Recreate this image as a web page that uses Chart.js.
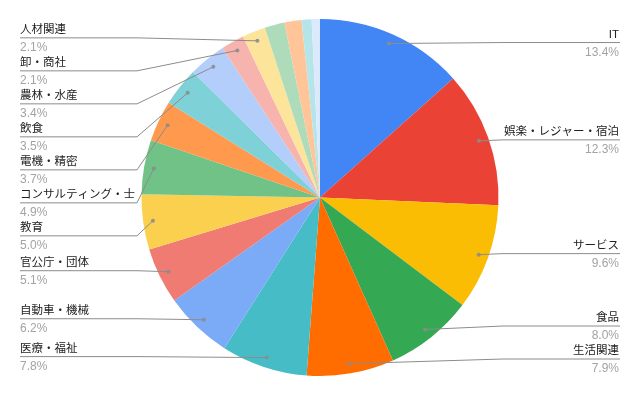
<!DOCTYPE html>
<html>
<head>
<meta charset="utf-8">
<script src="https://cdn.jsdelivr.net/npm/chart.js@4/dist/chart.umd.min.js"></script>
<style>
  html, body { margin: 0; padding: 0; background: #ffffff; }
  #wrap { width: 640px; height: 396px; }
</style>
</head>
<body>
<div id="wrap"><canvas id="c" width="640" height="396"></canvas></div>
<script>
// ---- data ----
const categories = ['IT', '娯楽・レジャー・宿泊', 'サービス', '食品', '生活関連', '医療・福祉',
  '自動車・機械', '官公庁・団体', '教育', 'コンサルティング・士', '電機・精密', '飲食',
  '農林・水産', '卸・商社', '人材関連', 'その他A', 'その他B', 'その他C', 'その他D'];
const shares = [13.4, 12.3, 9.6, 8.0, 7.9, 7.8, 6.2, 5.1, 5.0, 4.9, 3.7, 3.5, 3.4, 2.1, 2.1,
  1.8, 1.55, 0.9, 0.75];
const palette = ['#4285F4', '#EA4335', '#FBBC04', '#34A853', '#FF6D01', '#46BDC6', '#7BAAF7',
  '#F07B72', '#FCD04F', '#71C287', '#FF994D', '#7ED1D7', '#B3CEFB', '#F7B4AE', '#FDE49B',
  '#AEDCBA', '#FFC599', '#B5E5E8', '#DCE8FC'];
const labelThreshold = 2.0; // slices below this share get no outside label

const FONT = '"Liberation Sans", Arial, "Noto Sans CJK JP", sans-serif';

const outsideLabels = {
  id: 'outsideLabels',
  afterDraw(chart) {
    const ctx = chart.ctx;
    const meta = chart.getDatasetMeta(0);
    const data = chart.data.datasets[0].data;
    const total = data.reduce((a, b) => a + b, 0);
    const area = chart.chartArea;
    const spacing = 33;
    const minY = area.top + 18, maxY = area.bottom - 17;
    const leftX = 20, rightX = 620, elbowL = 137, elbowR = 503;
    const items = [];
    meta.data.forEach((arc, i) => {
      const pct = data[i] / total * 100;
      if (pct < labelThreshold) return;
      const mid = (arc.startAngle + arc.endAngle) / 2;
      const r = arc.outerRadius * 0.945;
      const ax = arc.x + Math.cos(mid) * r;
      const ay = arc.y + Math.sin(mid) * r;
      items.push({ i, ax, ay, pct, side: ax < arc.x ? 'L' : 'R', y: Math.min(maxY, Math.max(minY, ay - 1)) });
    });
    ['L', 'R'].forEach(side => {
      const list = items.filter(o => o.side === side).sort((a, b) => a.ay - b.ay);
      if (side === 'L' && list.length) list[0].y = Math.max(minY, list[0].y - 2);
      for (let k = 1; k < list.length; k++) list[k].y = Math.max(list[k].y, list[k - 1].y + spacing);
      for (let k = list.length - 1; k >= 0; k--) {
        if (k === list.length - 1) list[k].y = Math.min(list[k].y, maxY);
        else list[k].y = Math.min(list[k].y, list[k + 1].y - spacing);
      }
    });
    ctx.save();
    items.forEach(o => {
      // leader line
      ctx.strokeStyle = '#8c8c8c';
      ctx.lineWidth = 1;
      ctx.beginPath();
      if (o.side === 'L') {
        ctx.moveTo(leftX, o.y);
        ctx.lineTo(elbowL, o.y);
        ctx.lineTo(o.ax, o.ay);
      } else {
        ctx.moveTo(rightX, o.y);
        ctx.lineTo(elbowR, o.y);
        ctx.lineTo(o.ax, o.ay);
      }
      ctx.stroke();
      // anchor dot
      ctx.fillStyle = 'rgba(140,140,140,0.9)';
      ctx.beginPath();
      ctx.arc(o.ax, o.ay, 2, 0, Math.PI * 2);
      ctx.fill();
      // texts
      ctx.textBaseline = 'alphabetic';
      ctx.textAlign = o.side === 'L' ? 'left' : 'right';
      const tx = o.side === 'L' ? leftX : rightX - 1;
      ctx.font = '11.5px ' + FONT;
      ctx.fillStyle = '#222222';
      ctx.fillText(chart.data.labels[o.i], tx, o.y - 5);
      ctx.font = '12px ' + FONT;
      ctx.fillStyle = '#a3a3a3';
      ctx.fillText(o.pct.toFixed(1) + '%', tx, o.y + 13);
    });
    ctx.restore();
  }
};

new Chart(document.getElementById('c'), {
  type: 'pie',
  data: {
    labels: categories,
    datasets: [{
      data: shares,
      backgroundColor: palette,
      borderWidth: 0
    }]
  },
  options: {
    responsive: false,
    animation: false,
    layout: { padding: { top: 19, bottom: 20, left: 100, right: 100 } },
    plugins: { legend: { display: false }, tooltip: { enabled: false } }
  },
  plugins: [outsideLabels]
});
</script>
</body>
</html>
